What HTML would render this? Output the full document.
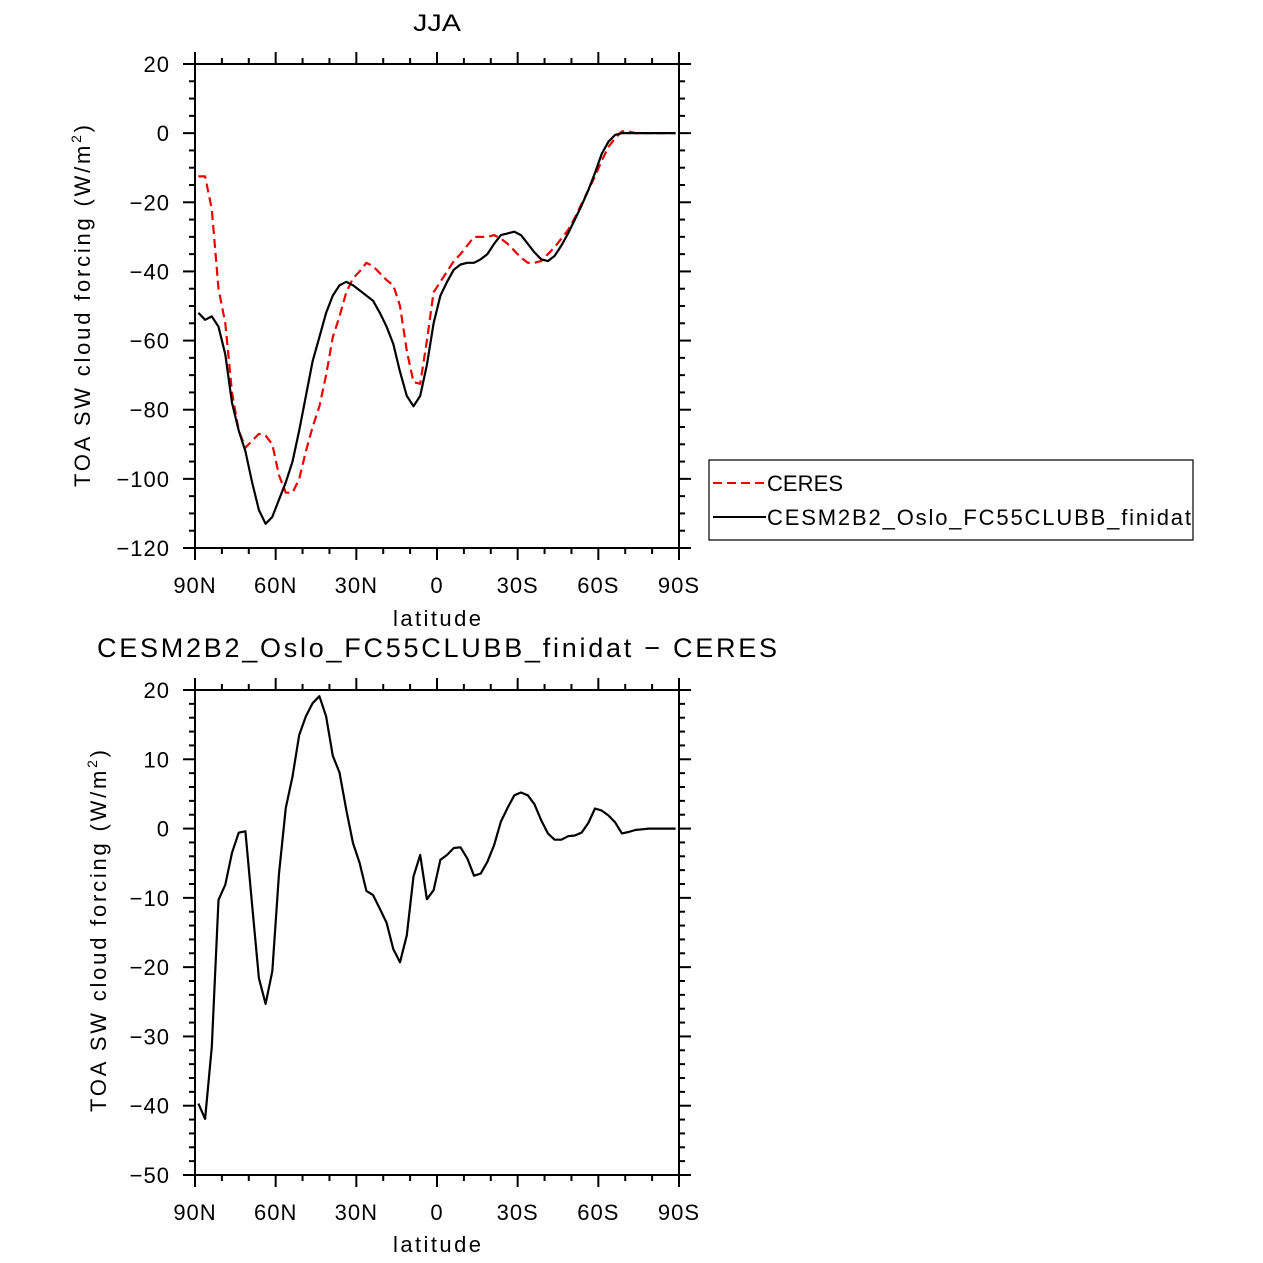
<!DOCTYPE html>
<html><head><meta charset="utf-8"><style>
html,body{margin:0;padding:0;background:#fff;}
svg{display:block;font-family:"Liberation Sans",sans-serif;}
</style></head><body>
<svg id="c" width="1263" height="1263" viewBox="0 0 1263 1263" xmlns="http://www.w3.org/2000/svg">
<text x="437" y="31" font-size="24" text-anchor="middle" textLength="48" lengthAdjust="spacingAndGlyphs">JJA</text>
<text x="437" y="657" font-size="27" text-anchor="middle" textLength="680" lengthAdjust="spacing">CESM2B2_Oslo_FC55CLUBB_finidat − CERES</text>
<text transform="translate(90,306) rotate(-90)" font-size="22" text-anchor="middle" textLength="362" lengthAdjust="spacing">TOA SW cloud forcing (W/m<tspan font-size="14" dy="-9">2</tspan><tspan dy="9">)</tspan></text>
<text transform="translate(106,931) rotate(-90)" font-size="22" text-anchor="middle" textLength="362" lengthAdjust="spacing">TOA SW cloud forcing (W/m<tspan font-size="14" dy="-9">2</tspan><tspan dy="9">)</tspan></text>
<text x="437" y="626" font-size="22" text-anchor="middle" textLength="88" lengthAdjust="spacing">latitude</text>
<text x="437" y="1252" font-size="22" text-anchor="middle" textLength="88" lengthAdjust="spacing">latitude</text>
<g>
<rect x="709" y="460" width="484" height="80" fill="none" stroke="#000" stroke-width="1.2"/>
<line x1="713" y1="483" x2="766" y2="483" stroke="#e00" stroke-width="2" stroke-dasharray="9,5"/>
<text x="767" y="491" font-size="22" textLength="76" lengthAdjust="spacing">CERES</text>
<line x1="713" y1="517" x2="766" y2="517" stroke="#000" stroke-width="2"/>
<text x="767" y="525" font-size="22" textLength="424" lengthAdjust="spacing">CESM2B2_Oslo_FC55CLUBB_finidat</text>
</g>
</svg>
<script>
const xTickLabels = ["90N","60N","30N","0","30S","60S","90S"];
const xTickLats = [90,60,30,0,-30,-60,-90];
const topYTicks = [20,0,-20,-40,-60,-80,-100,-120];
const botYTicks = [20,10,0,-10,-20,-30,-40,-50];
const model = [-52,-54,-53,-56,-64,-78,-86,-92,-101,-109,-113,-111,-106,-101,-95,-86,-76,-66,-59,-52,-47,-44,-43,-44,-45.5,-47,-48.5,-52,-56,-61,-69,-76,-79,-76,-67,-55,-47,-43,-39.5,-38,-37.5,-37.5,-36.5,-35,-32,-29.5,-29,-28.5,-29.5,-32,-34.5,-36.5,-37,-35.5,-32.5,-29,-25,-21,-16.5,-11.5,-6,-2.5,-0.5,0,0,0,0,0,0,0,0,0];
const ceres = [-12.5,-12.5,-22,-45,-55,-75,-86,-91,-89,-87,-87.5,-90,-99,-104,-104,-100,-92,-85,-79,-70,-59,-53,-46,-42,-40,-37.5,-38.5,-40.5,-42.5,-44,-50,-63,-72,-72.5,-60,-46,-43,-40,-37,-35,-32.5,-30,-30,-30,-29.5,-30.5,-32,-34,-36,-37.5,-37.5,-37,-35,-33,-30.5,-28,-24.5,-20.5,-16.5,-12.5,-8,-4,-1.5,0.5,0.5,0,0,0,0,0,0,0];
const diff = [-39.7,-41.9,-31.5,-10.3,-8.1,-3.5,-0.6,-0.4,-11,-21.6,-25.3,-20.6,-6.5,3,7.5,13.5,16.2,18.1,19.1,16.2,10.5,8.1,2.7,-2.1,-5,-9,-9.6,-11.6,-13.6,-17.4,-19.3,-15.4,-6.9,-3.8,-10.2,-8.9,-4.5,-3.8,-2.8,-2.7,-4.3,-6.8,-6.5,-4.8,-2.4,1.0,3.0,4.8,5.2,4.8,3.5,1.2,-0.7,-1.6,-1.6,-1.1,-1.0,-0.6,0.8,2.9,2.6,1.9,0.9,-0.7,-0.5,-0.2,-0.1,0,0,0,0,0];
const lats = model.map((_, i) => 88.75 - 2.5 * i);

const svg = document.getElementById('c');
const NS = 'http://www.w3.org/2000/svg';
function mk(tag, attrs, parent) {
  const e = document.createElementNS(NS, tag);
  for (const k in attrs) e.setAttribute(k, attrs[k]);
  (parent || svg).appendChild(e);
  return e;
}
const X0 = 195, X1 = 679;
function xs(lat) { return X0 + (90 - lat) * (X1 - X0) / 180; }

function panel(prefix, top, bottom, ymax, ymin, yTicks, minorStep, seriesList) {
  const ys = v => top + (ymax - v) * (bottom - top) / (ymax - ymin);
  const g = mk('g', {});
  
  
  const f = mk('rect', {x: X0, y: top, width: X1 - X0, height: bottom - top, fill: 'none', stroke: '#000', 'stroke-width': 2}, g);
  
  
  for (let v = ymin; v <= ymax + 1e-9; v += minorStep) {
    const major = yTicks.some(t => Math.abs(t - v) < 1e-6);
    const L = major ? 12 : 6;
    const y = ys(v);
    const t1 = mk('line', {x1: X0 - L, y1: y, x2: X0, y2: y, stroke: '#000', 'stroke-width': 2}, g);
    
    
    const t2 = mk('line', {x1: X1, y1: y, x2: X1 + L, y2: y, stroke: '#000', 'stroke-width': 2}, g);
    
    
  }
  yTicks.forEach(v => {
    const t = mk('text', {x: 170, y: ys(v) + 8, 'font-size': 22, 'text-anchor': 'end', 'letter-spacing': 1}, g);
    t.textContent = (v < 0 ? '\u2212' + (-v) : '' + v);
    
    
  });
  for (let lat = 90; lat >= -90; lat -= 10) {
    const major = lat % 30 === 0;
    const L = major ? 12 : 6;
    const x = xs(lat);
    const b = mk('line', {x1: x, y1: bottom, x2: x, y2: bottom + L, stroke: '#000', 'stroke-width': 2}, g);
    
    
    const t = mk('line', {x1: x, y1: top - L, x2: x, y2: top, stroke: '#000', 'stroke-width': 2}, g);
    
    
  }
  xTickLats.forEach((lat, i) => {
    const t = mk('text', {x: xs(lat), y: bottom + 45, 'font-size': 22, 'text-anchor': 'middle', 'letter-spacing': 1}, g);
    t.textContent = xTickLabels[i];
    
    
  });
  seriesList.forEach(s => {
    const d = s.vals.map((v, i) => (i ? 'L' : 'M') + xs(lats[i]).toFixed(1) + ',' + ys(v).toFixed(1)).join(' ');
    const p = mk('path', {d: d, fill: 'none', stroke: s.color, 'stroke-width': 2.2, 'stroke-linejoin': 'round'}, g);
    if (s.dash) p.setAttribute('stroke-dasharray', '9,5');
    
    
  });
}
panel('top', 64, 548, 20, -120, topYTicks, 5, [
  {vals: ceres, color: '#e00', dash: true, name: 'ceres-line'},
  {vals: model, color: '#000', dash: false, name: 'model-line'}
]);
panel('bottom', 690, 1175, 20, -50, botYTicks, 2, [
  {vals: diff, color: '#000', dash: false, name: 'difference-line'}
]);
</script>
</body></html>
